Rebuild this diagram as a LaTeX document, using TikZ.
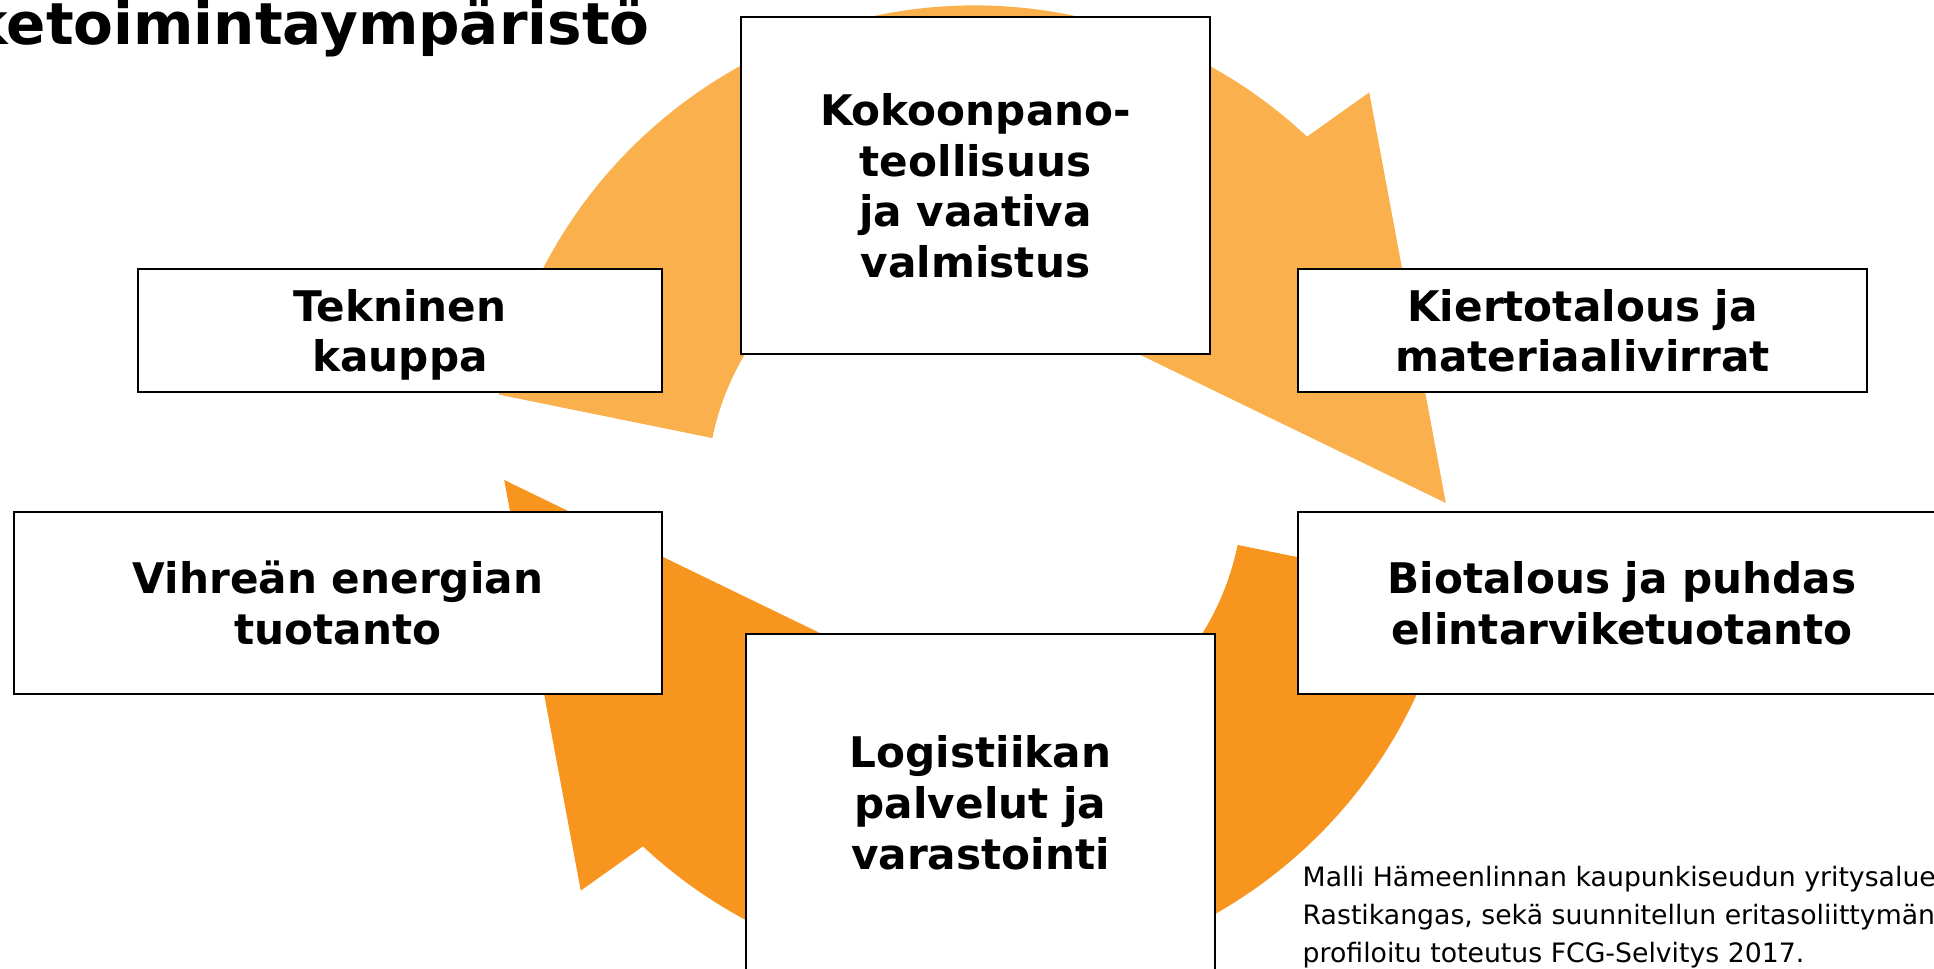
\documentclass[tikz,border=0pt]{standalone}
\usepackage{fontspec}
\setmainfont{DejaVu Sans}

\definecolor{ringlight}{HTML}{FBB04E}
\definecolor{ringdark}{HTML}{F7951F}

\tikzset{
  field/.style={draw=black, line width=0.6pt, fill=white, align=center,
    font=\bfseries\fontsize{12}{14.5}\selectfont, inner sep=0pt, text depth=0pt},
  tallfield/.style={field, minimum width=46.9mm, minimum height=33.7mm},
}

\begin{document}
\begin{tikzpicture}[x=0.1mm, y=0.1mm]
  \useasboundingbox (0,0) rectangle (1934,969);
  \clip (0,0) rectangle (1934,969);

  \begin{scope}[shift={(975,477.5)}]
    \foreach \turn/\col in {0/ringlight, 180/ringdark}{
      \fill[\col, rotate=\turn] (168.5:486) arc[start angle=168.5, end angle=46.9, radius=486]
        -- (45.35:561) -- (-1.4:471) -- (45.35:206) -- (46.9:268)
        arc[start angle=46.9, end angle=168.5, radius=268] -- cycle;
    }
  \end{scope}

  \node[tallfield] (assembly) at (975.5,783.5) {Kokoonpano-\\teollisuus\\ja vaativa\\valmistus};
  \node[field, minimum width=52.4mm, minimum height=12.3mm] (trade) at (400,638.5) {Tekninen\\kauppa};
  \node[field, minimum width=56.9mm, minimum height=12.3mm] (circular) at (1582.5,638.5) {Kiertotalous ja\\materiaalivirrat};
  \node[field, minimum width=64.8mm, minimum height=18.2mm] (energy) at (338,366) {Vihreän energian\\tuotanto};
  \node[field, minimum width=64.8mm, minimum height=18.2mm] (bioeco) at (1622,366) {Biotalous ja puhdas\\elintarviketuotanto};
  \node[tallfield] (logistics) at (980.5,166.5) {Logistiikan\\palvelut ja\\varastointi};

  \node[anchor=base west, font=\bfseries\fontsize{16.5}{20}\selectfont, inner sep=0pt] (title) at (-31,924) {ketoimintaympäristö};
  \node[anchor=base west, align=left, font=\fontsize{7.6}{10.8}\selectfont, inner sep=0pt] (source) at (1302,6.3)
    {Malli Hämeenlinnan kaupunkiseudun yritysalue\\Rastikangas, sekä suunnitellun eritasoliittymän\\profiloitu toteutus FCG-Selvitys 2017.};
\end{tikzpicture}
\end{document}
